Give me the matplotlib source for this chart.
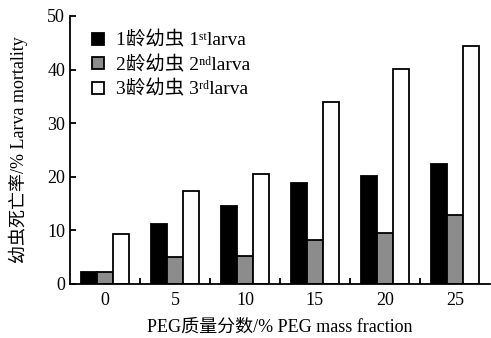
import numpy as np
from matplotlib import pyplot as plt

plt.rcParams['font.family'] = ['Liberation Serif', 'Noto Sans CJK SC', 'DejaVu Sans']

# Datos
categorias = ['0', '5', '10', '15', '20', '25']
larva1 = [2.3, 11.1, 14.5, 18.9, 20.1, 22.3]
larva2 = [2.2, 5.0, 5.2, 8.2, 9.6, 12.8]
larva3 = [9.4, 17.3, 20.6, 34.0, 40.1, 44.4]
etiquetas = ['1龄幼虫 1\u02e2\u1d57larva', '2龄幼虫 2\u207f\u1d48larva', '3龄幼虫 3\u02b3\u1d48larva']

fig = plt.figure(figsize=(4.91, 3.38), dpi=100)
ax = fig.add_axes([0.1426, 0.1598, 0.855, 0.793])

x = np.arange(len(categorias))
w = 0.23
ax.bar(x - w, larva1, w, color='black', edgecolor='black', linewidth=1.3, label=etiquetas[0])
ax.bar(x, larva2, w, color='#8c8c8c', edgecolor='black', linewidth=1.3, label=etiquetas[1])
ax.bar(x + w, larva3, w, color='white', edgecolor='black', linewidth=1.3, label=etiquetas[2])

ax.set_xlim(-0.5, 5.5)
ax.set_ylim(0, 50)
ax.set_yticks([0, 10, 20, 30, 40, 50])
ax.set_xticks(x)
ax.set_xticklabels(categorias)
ax.set_xticks(x[:-1] + 0.5, minor=True)
ax.tick_params(axis='x', which='major', length=0, labelsize=13, pad=6)
ax.tick_params(axis='x', which='minor', direction='in', length=4, width=1.3)
ax.tick_params(axis='y', direction='in', length=4, width=1.3, labelsize=13)

for s in ['top', 'right']:
    ax.spines[s].set_visible(False)
for s in ['left', 'bottom']:
    ax.spines[s].set_linewidth(1.3)

ax.set_xlabel('PEG质量分数/% PEG mass fraction', fontsize=13, labelpad=7)
ax.set_ylabel('幼虫死亡率/% Larva mortality', fontsize=13, labelpad=14)

ax.legend(loc='upper left', frameon=False, fontsize=14, handlelength=0.6, handleheight=0.6,
          handletextpad=0.6, labelspacing=0.32, borderaxespad=0.2, bbox_to_anchor=(0.025, 0.985))

plt.savefig('out.png', dpi=100)
